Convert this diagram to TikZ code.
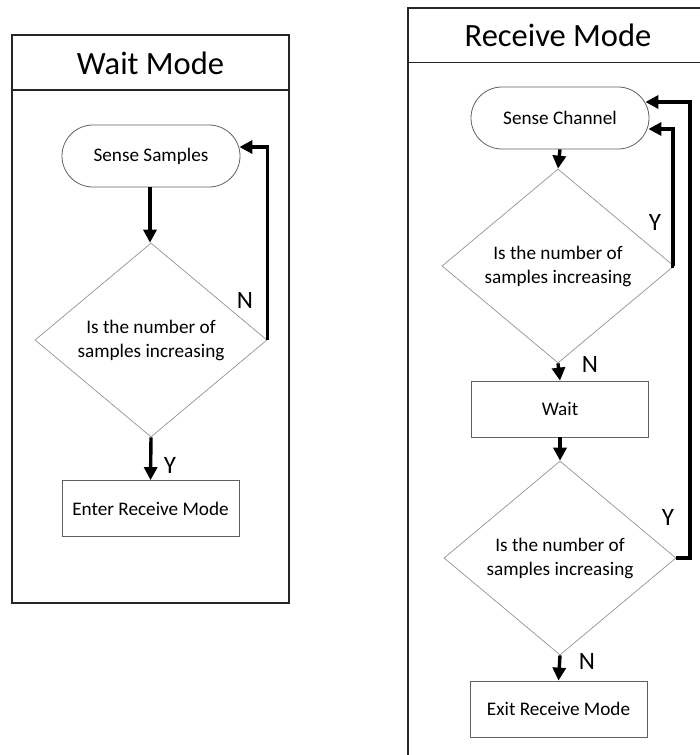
\documentclass[tikz,border=0pt]{standalone}
\usepackage{fontspec}
\setmainfont{Carlito}
\usetikzlibrary{shapes.geometric,arrows.meta}

\begin{document}
\begin{tikzpicture}[x=1pt,y=-1pt,
  panel/.style={draw=black!85,line width=1.6pt},
  title/.style={font=\fontsize{32.5}{34}\selectfont},
  term/.style={draw=gray!75!black,line width=0.8pt,rectangle,rounded corners=31pt,
    minimum width=178pt,minimum height=62pt,font=\fontsize{19.2}{22}\selectfont},
  proc/.style={draw=gray!75!black,line width=0.8pt,rectangle,
    minimum width=177pt,minimum height=56pt,font=\fontsize{19.2}{22}\selectfont},
  dec/.style={draw=gray!85,line width=0.7pt,diamond,inner sep=0pt,
    minimum width=232pt,minimum height=194pt,align=center,
    font=\fontsize{19.2}{24}\selectfont},
  flow/.style={-{Triangle[length=13pt,width=13pt]},line width=3.4pt,black},
  loop/.style={flow,line join=miter},
  yn/.style={font=\fontsize{25}{27}\selectfont}]

\useasboundingbox (0,0) rectangle (699,755);

% ---- Wait Mode panel ----
\draw[panel] (12,35) rectangle (289,603);
\draw[panel] (12,90) -- (289,90);
\node[title] (wtitle) at (150.5,63) {Wait Mode};

\node[term] (ss) at (151,156) {Sense Samples};
\node[dec]  (wd) at (151,340) {Is the number of\\samples increasing};
\node[proc] (erm) at (150.5,508.5) {Enter Receive Mode};

\draw[flow] (ss.south -| 150,0) -- (wd.north -| 150,0);
\draw[loop] (wd.east) |- ([yshift=9pt,xshift=-1pt]ss.east);
\draw[flow] (wd.south) -- (erm.north);
\node[yn] (wn) at (245,300) {N};
\node[yn] (wy) at (170,465) {Y};

% ---- Receive Mode panel ----
\draw[panel] (408,756) -- (408,8) -- (700,8);
\draw[panel] (408,62.5) -- (700,62.5);
\node[title] (rtitle) at (558,35) {Receive Mode};

\node[term] (sc) at (560,118) {Sense Channel};
\node[dec]  (rd1) at (558,266) {Is the number of\\samples increasing};
\node[proc] (wt) at (560,409) {Wait};
\node[dec]  (rd2) at (560,558) {Is the number of\\samples increasing};
\node[proc] (xrm) at (558.5,709) {Exit Receive Mode};

\coordinate (c1) at (673,129);
\coordinate (c2) at (690,102);

\draw[flow] (sc.south) -- (rd1.north);
\draw[loop] (rd1.east) -- (rd1.east -| c1) -- (c1) -- ([yshift=-11pt,xshift=-1pt]sc.east);
\draw[flow] (rd1.south) -- (wt.north);
\draw[flow] (wt.south) -- (rd2.north);
\draw[loop] (rd2.east) -- (rd2.east -| c2) -- (c2) -- ([yshift=16pt,xshift=-4pt]sc.east);
\draw[flow] (rd2.south) -- (xrm.north);

\node[yn] (ry1) at (655,222) {Y};
\node[yn] (rn1) at (590,364) {N};
\node[yn] (ry2) at (668,517) {Y};
\node[yn] (rn2) at (587,661) {N};
\end{tikzpicture}
\end{document}
